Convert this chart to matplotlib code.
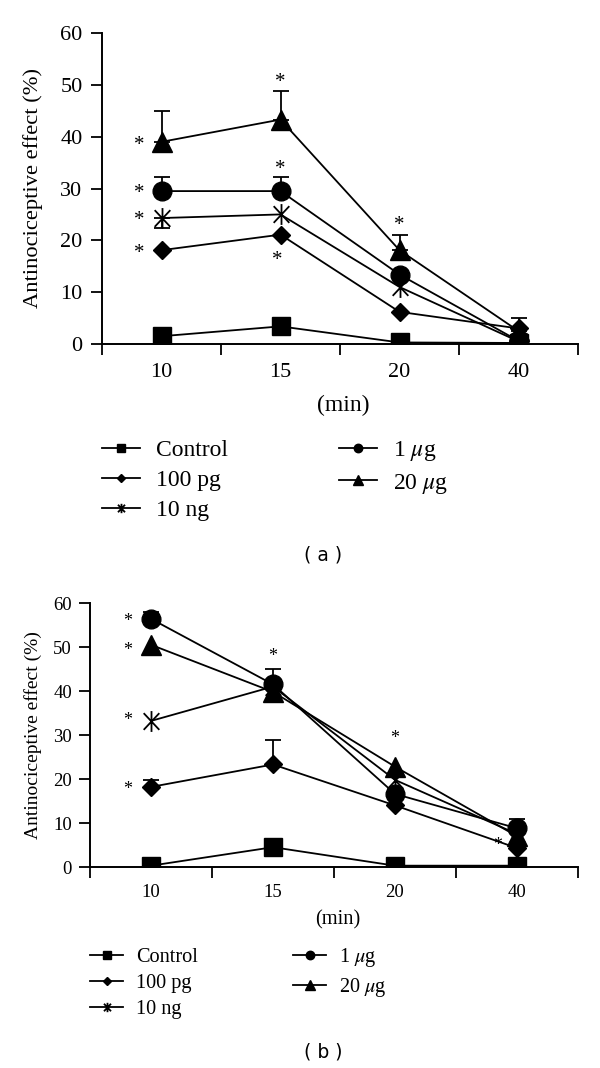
import numpy as np
import matplotlib
matplotlib.use('Agg')
import matplotlib.pyplot as plt
from matplotlib.path import Path
from matplotlib.ticker import FixedLocator, NullFormatter

plt.rcParams['font.family'] = ['Liberation Serif', 'DejaVu Serif']
plt.rcParams['mathtext.fontset'] = 'stix'

nan = np.nan

# ---------------- data ----------------
times = ['10', '15', '20', '40']
series_labels = ['Control', '100 pg', '10 ng', r'1 $\mu$g', r'20 $\mu$g']

# Panel (a)
a_control = [1.5, 3.4, 0.3, 0.2]
a_100pg = [18.1, 21.1, 6.2, 3.0]
a_10ng = [24.3, 25.0, 11.0, 0.5]
a_1ug = [29.5, 29.5, 13.4, 0.6]
a_20ug = [39.0, 43.3, 18.1, 2.5]
a_20ug_err_top = [45.0, 48.8, 21.0, 5.0]
a_1ug_err_top = [32.2, 32.2, nan, nan]
a_10ng_err_bottom = [22.3, nan, nan, nan]
a_star_x = [0.81, 0.81, 0.81, 0.81, 2.0, 2.0, 1.97, 3.0]
a_star_y = [38.2, 29.0, 23.8, 17.5, 50.4, 33.6, 16.2, 22.8]

# Panel (b)
b_control = [0.3, 4.5, 0.3, 0.3]
b_100pg = [18.2, 23.3, 14.0, 4.3]
b_10ng = [33.2, 41.0, 19.8, 7.5]
b_1ug = [56.4, 41.5, 16.6, 8.8]
b_20ug = [50.5, 39.8, 22.8, 7.0]
b_1ug_err_top = [58.0, nan, nan, 10.9]
b_100pg_err_top = [19.8, 28.9, nan, nan]
b_10ng_err_top = [nan, 45.0, nan, nan]
b_star_x = [0.81, 0.81, 0.81, 0.81, 2.0, 3.0, 3.84]
b_star_y = [55.9, 49.3, 33.4, 17.5, 47.9, 29.3, 5.0]

yticks = [0, 10, 20, 30, 40, 50, 60]

# --------------- styling ---------------
ast_verts = [(0, 1), (0, -1), (-0.75, 0.8), (0.75, -0.8), (-0.75, -0.8), (0.75, 0.8)]
ast_codes = [Path.MOVETO, Path.LINETO] * 3
ast_marker = Path(ast_verts, ast_codes)

styles = [
    dict(marker='s', ms=13),
    dict(marker='D', ms=9.5),
    dict(marker=ast_marker, ms=15, mew=1.3, mfc='none'),
    dict(marker='o', ms=13.5),
    dict(marker='^', ms=14.5),
]

fig = plt.figure(figsize=(6, 10.68), dpi=100)
W, H = 600, 1068


def px_axes(l, r, t, b):
    return fig.add_axes([l / W, 1 - b / H, (r - l) / W, (b - t) / H])


def draw_panel(ax, data, errs, star_x, star_y, tick_fs, lab_fs, min_fs, star_fs,
               ylab_x, xlab_y, tick_pad, ytick_pad, leg_anchor, leg_fs,
               leg_colsp, leg_lsp, leg_hl, leg_htp, caption, cap_xy, cap_fs):
    x = np.arange(1, len(times) + 1)
    handles = []
    for vals, st, lab in zip(data, styles, series_labels):
        kw = dict(st)
        ms = kw.pop('ms')
        mew = kw.pop('mew', 1.0)
        mfc = kw.pop('mfc', 'black')
        h, = ax.plot(x, vals, color='black', lw=1.3, marker=kw['marker'],
                     ms=ms, mew=mew, mfc=mfc, mec='black', label=lab, zorder=3)
        handles.append(h)
    for vals, top, bottom in errs:
        vals = np.array(vals, float)
        top = np.array(top, float) if top is not None else np.full(len(vals), nan)
        bottom = np.array(bottom, float) if bottom is not None else np.full(len(vals), nan)
        m = ~np.isnan(top) | ~np.isnan(bottom)
        up = np.where(np.isnan(top), 0, top - vals)
        lo = np.where(np.isnan(bottom), 0, vals - bottom)
        ax.errorbar(x[m], vals[m], yerr=[lo[m], up[m]], fmt='none', ecolor='black',
                    elinewidth=1.3, capsize=6, capthick=1.3, zorder=2)
    for sx, sy in zip(star_x, star_y):
        ax.text(sx, sy, '*', ha='center', va='center', fontsize=star_fs)

    ax.set_xlim(0.5, 4.5)
    ax.set_ylim(0, 60)
    for s in ['top', 'right']:
        ax.spines[s].set_visible(False)
    for s in ['left', 'bottom']:
        ax.spines[s].set_linewidth(1.4)
    ax.set_xticks(x)
    ax.set_xticklabels(times, fontsize=tick_fs)
    ax.xaxis.set_minor_locator(FixedLocator(np.arange(0.5, 4.6, 1.0)))
    ax.xaxis.set_minor_formatter(NullFormatter())
    ax.tick_params(axis='x', which='major', length=0, pad=tick_pad)
    ax.tick_params(axis='x', which='minor', length=8, width=1.3, direction='out')
    ax.set_yticks(yticks)
    ax.set_yticklabels([str(v) for v in yticks], fontsize=tick_fs)
    ax.tick_params(axis='y', length=8, width=1.3, direction='out', pad=ytick_pad)
    ax.set_ylabel('Antinociceptive effect (%)', fontsize=lab_fs)
    ax.yaxis.set_label_coords(ylab_x, 0.5)
    ax.set_xlabel('(min)', fontsize=min_fs)
    ax.xaxis.set_label_coords(0.507, xlab_y)

    fig.legend(handles=handles, loc='upper left', bbox_to_anchor=leg_anchor,
               ncol=2, frameon=False, fontsize=leg_fs, markerscale=0.45,
               borderpad=0, borderaxespad=0, columnspacing=leg_colsp,
               labelspacing=leg_lsp, handlelength=leg_hl, handletextpad=leg_htp)
    fig.text(cap_xy[0] / W, 1 - cap_xy[1] / H, caption, ha='center', va='center',
             fontsize=cap_fs, family='DejaVu Sans')


ax_a = px_axes(102, 578, 33, 344)
draw_panel(ax_a,
           [a_control, a_100pg, a_10ng, a_1ug, a_20ug],
           [(a_20ug, a_20ug_err_top, None), (a_1ug, a_1ug_err_top, None),
            (a_10ng, None, a_10ng_err_bottom)],
           a_star_x, a_star_y, tick_fs=16, lab_fs=16.2, min_fs=17, star_fs=15,
           ylab_x=-0.124, xlab_y=-0.165, tick_pad=14, ytick_pad=6,
           leg_anchor=(102 / W, 1 - 439 / H), leg_fs=17, leg_colsp=4.7,
           leg_lsp=0.36, leg_hl=1.6, leg_htp=0.68, caption='( a )',
           cap_xy=(323, 555), cap_fs=13.5)

ax_b = px_axes(90, 578, 603, 867)
draw_panel(ax_b,
           [b_control, b_100pg, b_10ng, b_1ug, b_20ug],
           [(b_1ug, b_1ug_err_top, None), (b_100pg, b_100pg_err_top, None),
            (b_10ng, b_10ng_err_top, None)],
           b_star_x, b_star_y, tick_fs=13.5, lab_fs=14, min_fs=14.8, star_fs=13,
           ylab_x=-0.098, xlab_y=-0.165, tick_pad=12, ytick_pad=5,
           leg_anchor=(90 / W, 1 - 946 / H), leg_fs=14.6, leg_colsp=4.7,
           leg_lsp=0.33, leg_hl=1.63, leg_htp=0.64, caption='( b )',
           cap_xy=(323, 1052), cap_fs=13.5)

fig.savefig('out.png', dpi=100)
